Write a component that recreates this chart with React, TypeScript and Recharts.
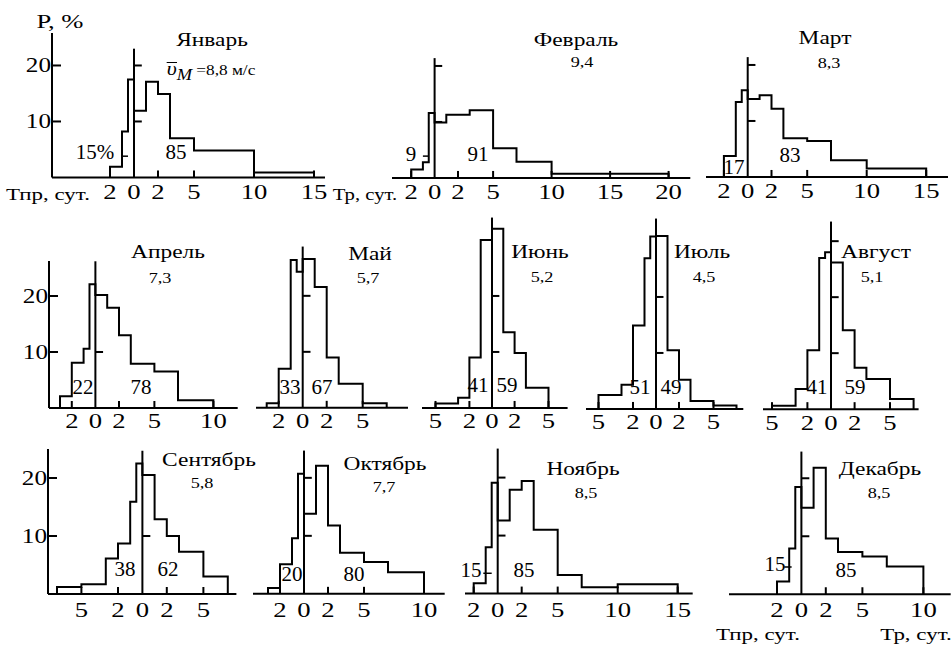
import * as React from "react";
import { LineChart, Line, XAxis, YAxis, ReferenceLine } from "recharts";

const FONT = "'Liberation Serif', 'DejaVu Serif', serif";

const months = ["Январь", "Февраль", "Март", "Апрель", "Май", "Июнь", "Июль", "Август", "Сентябрь", "Октябрь", "Ноябрь", "Декабрь"];
const speeds = ["=8,8 м/с", "9,4", "8,3", "7,3", "5,7", "5,2", "4,5", "5,1", "5,8", "7,7", "8,5", "8,5"];
const leftShare = ["15%", "9", "17", "22", "33", "41", "51", "41", "38", "20", "15", "15"];
const rightShare = ["85", "91", "83", "78", "67", "59", "49", "59", "62", "80", "85", "85"];

// bin edges in days (negative side = Тпр, positive = Тр) and repeatability P, %
const janEdges = [-2, -1, -0.5, 0, 1, 2, 3, 5, 10, 15];
const janP = [1.9, 8.2, 17.5, 11.9, 17.1, 14.9, 7.0, 4.8, 0.9];
const febEdges = [-2, -1, -0.5, 0, 1, 3, 5, 7, 10, 20];
const febP = [1.5, 2.8, 11.6, 9.9, 11.3, 12.1, 5.3, 2.9, 0.75];
const marEdges = [-2, -1, -0.5, 0, 1, 2, 3, 5, 7, 10, 15];
const marP = [3.75, 13.4, 15.5, 13.9, 14.6, 12.2, 6.9, 6.4, 3.0, 1.5];
const aprEdges = [-3, -2, -1, -0.5, 0, 1, 2, 3, 5, 7, 10];
const aprP = [2.1, 8.1, 10.6, 22.1, 20.2, 17.9, 13.0, 7.9, 6.5, 1.4];
const mayEdges = [-3, -2, -1, -0.5, 0, 1, 2, 3, 5, 7];
const mayP = [0.8, 7.0, 26.4, 24.3, 26.6, 21.6, 9.0, 4.3, 0.8];
const junEdges = [-5, -3, -2, -1, 0, 1, 2, 3, 5];
const junP = [0.8, 1.8, 9.0, 30, 32, 13.5, 9.8, 3.6];
const julEdges = [-5, -3, -2, -1, -0.5, 0, 1, 2, 3, 5, 7];
const julP = [2.5, 4.3, 14.9, 26.9, 30.8, 30.9, 10.5, 5.2, 1.4, 0.6];
const augEdges = [-5, -3, -2, -1, -0.5, 0, 1, 2, 3, 5, 7];
const augP = [0.6, 3.6, 10.5, 27, 28, 26.2, 14.1, 7.4, 5.4, 1.8];
const sepEdges = [-7, -5, -3, -2, -1, -0.5, 0, 1, 2, 3, 5, 7];
const sepP = [1.2, 1.7, 6.1, 8.7, 15.9, 22.5, 20.5, 12.9, 10.0, 7.3, 3.0];
const octEdges = [-3, -2, -1, -0.5, 0, 1, 2, 3, 5, 7, 10];
const octP = [1.0, 5.1, 9.6, 20.7, 13.8, 22.1, 11.8, 7.1, 5.5, 3.7];
const novEdges = [-2, -1, -0.5, 0, 1, 2, 3, 5, 7, 10, 15];
const novP = [1.8, 8.0, 19.1, 12.6, 17.9, 19.4, 11.0, 3.2, 1.1, 1.6];
const decEdges = [-2, -1, -0.5, 0, 1, 2, 3, 5, 7, 10];
const decP = [2.2, 7.9, 18.5, 14.9, 21.8, 9.6, 7.3, 6.5, 4.8];

const edges = [janEdges, febEdges, marEdges, aprEdges, mayEdges, junEdges, julEdges, augEdges, sepEdges, octEdges, novEdges, decEdges];
const heights = [janP, febP, marP, aprP, mayP, junP, julP, augP, sepP, octP, novP, decP];

const ticks15 = [-2, 0, 2, 5, 10, 15];
const ticks20 = [-2, 0, 2, 5, 10, 15, 20];
const ticks10 = [-2, 0, 2, 5, 10];
const ticks5 = [-2, 0, 2, 5];
const ticks55 = [-5, -2, 0, 2, 5];
const axisTicks = [ticks15, ticks20, ticks15, ticks10, ticks5, ticks55, ticks55, ticks55, ticks55, ticks10, ticks15, ticks10];
const yTicks = [10, 20];

// page layout of each small panel (pixels)
const layout = [
  { zero: 134, ppd: 12, from: 52, to: 325, base: 177.5, ppp: 5.6, yMax: 25.8, top0: 23, yAxis: true, zt: [10, 20], leader: [-1, -0.5, 3.8], dy: 21.5, title: [212, 40], val: [211, 70], ls: [95, 152], rs: [176, 152] },
  { zero: 434.3, ppd: 11.7, from: 391.7, to: 690, base: 177.5, ppp: 5.6, yMax: 21.6, top0: 21.4, zt: [10, 20], leader: [-1, -0.5, 3.9], dy: 21.5, title: [576, 40], val: [582, 63], ls: [411, 154], rs: [478, 154] },
  { zero: 747.7, ppd: 11.9, from: 706, to: 948, base: 177, ppp: 5.6, yMax: 21.6, top0: 21.4, zt: [10, 20], dy: 21.5, title: [825, 38], val: [829, 64], ls: [734, 167], rs: [790, 155] },
  { zero: 95.7, ppd: 11.8, from: 49.3, to: 238, base: 408, ppp: 5.6, yMax: 26.25, top0: 26.2, yAxis: true, zt: [10], dy: 20.5, title: [168, 252], val: [160, 279], ls: [83, 387], rs: [141, 387] },
  { zero: 302.7, ppd: 12, from: 256, to: 408, base: 408, ppp: 5.6, yMax: 28.9, top0: 28.8, zt: [10, 20], dy: 20.5, title: [370, 254], val: [368, 279], ls: [290, 387], rs: [322, 387] },
  { zero: 491.7, ppd: 11.3, from: 421.7, to: 567.3, base: 408.3, ppp: 5.6, yMax: 34.1, top0: 34, zt: [10, 20], dy: 20.5, title: [540, 252], val: [542, 278], ls: [478, 385], rs: [507, 385] },
  { zero: 656, ppd: 11.5, from: 586, to: 743.3, base: 408.5, ppp: 5.6, yMax: 34.1, top0: 34, zt: [10, 20], dy: 20.5, title: [702, 252], val: [704, 278], ls: [640, 387], rs: [671, 387] },
  { zero: 830.7, ppd: 11.8, from: 762.7, to: 918.3, base: 409, ppp: 5.6, yMax: 33.6, top0: 33.5, zt: [10, 20, 30], dy: 20.5, title: [876, 252], val: [872, 278], ls: [817, 387], rs: [855, 387] },
  { zero: 142.7, ppd: 12.2, from: 48.3, to: 236.7, base: 593.5, ppp: 5.8, yMax: 25, top0: 24.7, yAxis: true, zt: [10], dy: 23, title: [209, 460], val: [202, 484], ls: [125, 569], rs: [168, 569] },
  { zero: 304.3, ppd: 12, from: 253.3, to: 445, base: 593.5, ppp: 5.8, yMax: 24.8, top0: 24.7, zt: [10, 20], dy: 23, title: [385, 464], val: [384, 488], ls: [292, 574], rs: [354, 574] },
  { zero: 497.7, ppd: 12, from: 465, to: 692.7, base: 593.5, ppp: 5.8, yMax: 25.1, top0: 25, zt: [10, 20], leader: [-1.2, -0.5, 3.5], dy: 23, title: [583, 469], val: [586, 494], ls: [471, 570], rs: [524, 570] },
  { zero: 801.7, ppd: 12.2, from: 729.3, to: 951, base: 594, ppp: 5.8, yMax: 24.7, top0: 24.6, zt: [10, 20], leader: [-1.4, -0.8, 4.7], dy: 23, title: [880, 469], val: [879, 494], ls: [775, 564], rs: [846, 570] },
];

const stepData = (e: number[], p: number[]) => {
  const pts = [{ x: e[0], p: 0 }];
  p.forEach((v, i) => pts.push({ x: e[i], p: v }));
  pts.push({ x: e[e.length - 1], p: p[p.length - 1] });
  pts.push({ x: e[e.length - 1], p: 0 });
  return pts;
};

const XTick = (props: any) => {
  const { x, y, payload, off } = props;
  const v = payload.value;
  return (
    <g>
      {v !== 0 && <line x1={x} x2={x} y1={y} y2={y - 7} stroke="#000" strokeWidth={2} />}
      <text transform={`translate(${x},${y + off}) scale(1.27,1)`} textAnchor="middle" fontFamily={FONT} fontSize={21} fill="#000">
        {Math.abs(v)}
      </text>
    </g>
  );
};

const YTick = (props: any) => {
  const { x, y, payload } = props;
  return (
    <g>
      <line x1={x} x2={x + 9} y1={y} y2={y} stroke="#000" strokeWidth={2} />
      <text transform={`translate(${x - 1},${y + 7}) scale(1.2,1)`} textAnchor="end" fontFamily={FONT} fontSize={21} fill="#000">
        {payload.value}
      </text>
    </g>
  );
};

const T = ({ at, size, sx = 1.3, children }: { at: number[]; size: number; sx?: number; children: React.ReactNode }) => (
  <div
    style={{
      position: "absolute",
      left: at[0],
      top: at[1],
      transform: `translate(-50%, -50%) scaleX(${sx})`,
      fontFamily: FONT,
      fontSize: size,
      lineHeight: 1,
      whiteSpace: "nowrap",
      color: "#000",
    }}
  >
    {children}
  </div>
);

const Panel = ({ i }: { i: number }) => {
  const L: any = layout[i];
  const yw = L.yAxis ? 50 : 0;
  const mt = 3;
  const mr = 3;
  const xh = 34;
  const plotW = L.to - L.from;
  const plotH = L.yMax * L.ppp;
  const lo = (L.from - L.zero) / L.ppd;
  const hi = (L.to - L.zero) / L.ppd;
  const data = stepData(edges[i], heights[i]);
  return (
    <div style={{ position: "absolute", left: L.from - yw, top: L.base - plotH - mt }}>
      <LineChart width={yw + plotW + mr} height={mt + plotH + xh} data={data} margin={{ top: mt, right: mr, left: 0, bottom: 0 }}>
        <XAxis
          dataKey="x"
          type="number"
          domain={[lo, hi]}
          allowDataOverflow
          ticks={axisTicks[i]}
          interval={0}
          tickLine={false}
          tickSize={0}
          tickMargin={0}
          height={xh}
          axisLine={{ stroke: "#000", strokeWidth: 2 }}
          tick={(p: any) => <XTick {...p} off={L.dy} />}
        />
        <YAxis
          type="number"
          domain={[0, L.yMax]}
          allowDataOverflow
          hide={!L.yAxis}
          width={yw}
          ticks={yTicks}
          interval={0}
          tickLine={false}
          tickSize={0}
          tickMargin={0}
          axisLine={{ stroke: "#000", strokeWidth: 2 }}
          tick={(p: any) => <YTick {...p} />}
        />
        <ReferenceLine segment={[{ x: 0, y: 0 }, { x: 0, y: L.top0 }]} stroke="#000" strokeWidth={2} />
        {L.zt.map((v: number) => (
          <ReferenceLine key={v} segment={[{ x: 0, y: v }, { x: 0.65, y: v }]} stroke="#000" strokeWidth={2} />
        ))}
        {L.leader && (
          <ReferenceLine
            segment={[{ x: L.leader[0], y: L.leader[2] }, { x: L.leader[1], y: L.leader[2] }]}
            stroke="#000"
            strokeWidth={1.5}
          />
        )}
        <Line type="stepAfter" dataKey="p" stroke="#000" strokeWidth={2} dot={false} isAnimationActive={false} />
      </LineChart>
    </div>
  );
};

export default function App() {
  return (
    <div style={{ position: "absolute", left: 0, top: 0, width: 951, height: 646, overflow: "hidden", background: "#fff" }}>
      {layout.map((L, i) => (
        <React.Fragment key={i}>
          <Panel i={i} />
          <T at={L.title} size={18}>{months[i]}</T>
          {i === 0 ? (
            <T at={L.val} size={15} sx={1.15}>
              <span
                style={{
                  display: "inline-block",
                  fontStyle: "italic",
                  fontSize: 19,
                  lineHeight: 0.6,
                  borderTop: "1.5px solid #000",
                }}
              >
                υ
              </span>
              <span style={{ fontStyle: "italic", fontSize: 16, position: "relative", top: 5 }}>M</span> {speeds[i]}
            </T>
          ) : (
            <T at={L.val} size={14}>{speeds[i]}</T>
          )}
          <T at={L.ls} size={20} sx={1.05}>{leftShare[i]}</T>
          <T at={L.rs} size={20} sx={1.05}>{rightShare[i]}</T>
        </React.Fragment>
      ))}
      <T at={[60, 21]} size={19} sx={1.4}>Р, %</T>
      <T at={[48, 194]} size={17} sx={1.35}>Тпр, сут.</T>
      <T at={[365, 194]} size={17} sx={1.22}>Тр, сут.</T>
      <T at={[758, 634]} size={17} sx={1.35}>Тпр, сут.</T>
      <T at={[916, 634]} size={17} sx={1.35}>Тр, сут.</T>
    </div>
  );
}
